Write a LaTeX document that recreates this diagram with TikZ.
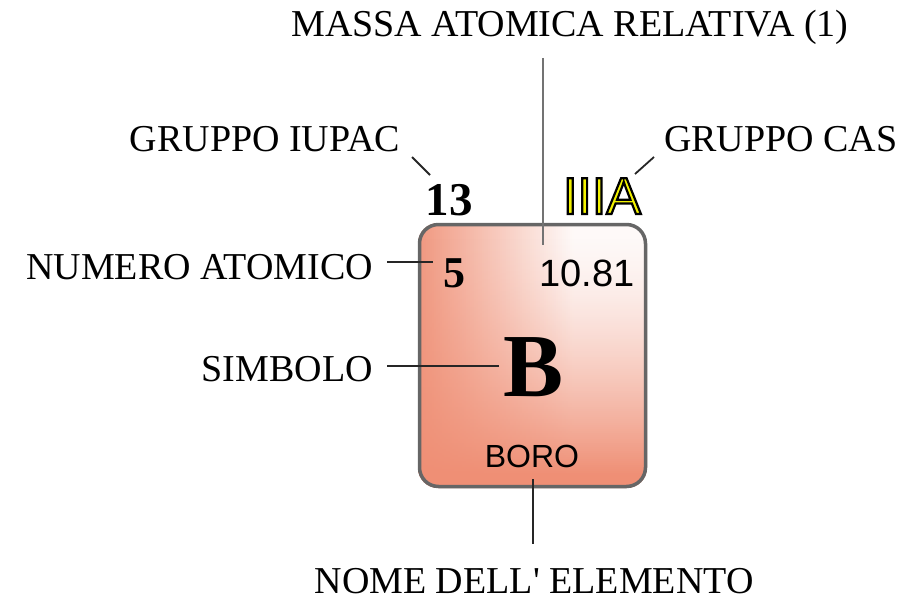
\documentclass[tikz,border=0pt]{standalone}
\usepackage{fontspec}
\setmainfont{Liberation Serif}
\newfontfamily\arialfont{Liberation Sans}
\definecolor{salmon}{HTML}{EF8F75}
\definecolor{boxedge}{HTML}{666666}
\definecolor{casyellow}{HTML}{F2F200}
\newcommand\outlinedtext[1]{\textcolor{casyellow}{\special{pdf:literal direct 2 Tr 2.2 w 0 0 0 RG}#1\special{pdf:literal direct 0 Tr}}}
\tikzset{
  lbl/.style={inner sep=0pt, font=\fontsize{38}{41}\selectfont},
  lead/.style={line width=1.8pt, draw=black!85},
  leadgray/.style={line width=2pt, draw=black!55},
}
\begin{document}
\begin{tikzpicture}[x=1pt,y=-1pt]
\useasboundingbox (0,0) rectangle (913,599);
% element box: horizontal gradient (salmon left -> white right)
% overlaid with a vertical gradient (clear top -> salmon bottom)
\begin{scope}
  \clip[rounded corners=20] (418,223) rectangle (647,488);
  \foreach \x in {418,420,...,646}{
    \pgfmathsetmacro\p{100*max(0.05,0.92*(1-(\x+1-418)/165))}
    \fill[salmon!\p!white] (\x,223) rectangle (\x+2,488);
  }
  \foreach \y in {223,225,...,487}{
    \pgfmathsetmacro\v{min(1,pow(max(0.0001,(\y+1-235)/240),1.5))}
    \fill[salmon, fill opacity=\v] (418,\y) rectangle (648,\y+2);
  }
\end{scope}
\draw[boxedge, line width=3.5pt, rounded corners=19] (419.5,224.5) rectangle (645.5,486.5);

% texts
\node[lbl, anchor=base] (massa) at (570,37) {MASSA ATOMICA RELATIVA (1)};
\node[lbl, anchor=base east] (iupac) at (400,152) {GRUPPO IUPAC};
\node[lbl, anchor=base west] (cas) at (664,152) {GRUPPO CAS};
\node[lbl, anchor=base east] (numero) at (373,279) {NUMERO ATOMICO};
\node[lbl, anchor=base east] (simbolo) at (373,381) {SIMBOLO};
\node[lbl, anchor=base] (nome) at (534,593) {NOME DELL\textquotesingle{} ELEMENTO};

\node[inner sep=0pt, anchor=base, font=\fontsize{47}{50}\selectfont\bfseries] (g13) at (449,215) {13};
\node[inner sep=0pt, anchor=base, font=\fontsize{52}{55}\selectfont\arialfont] (g3a) at (602,214) {\outlinedtext{IIIA}};
\node[inner sep=0pt, anchor=base, font=\fontsize{44}{48}\selectfont\bfseries] (z) at (454,287) {5};
\node[inner sep=0pt, anchor=base, font=\fontsize{38}{41}\selectfont\arialfont] (mass) at (587,286) {10.81};
\node[inner sep=0pt, anchor=base, font=\fontsize{90}{95}\selectfont\bfseries] (sym) at (534,396) {B};
\node[inner sep=0pt, anchor=base, font=\fontsize{32}{35}\selectfont\arialfont] (name) at (532,467) {BORO};

% connector end points
\coordinate (m1) at (543,58);
\coordinate (m2) at (543,245);
\coordinate (i1) at (412,157);
\coordinate (i2) at (430,175);
\coordinate (c1) at (654,157);
\coordinate (c2) at (635,174);
\coordinate (n1) at (387,262);
\coordinate (n2) at (433,262);
\coordinate (s1) at (387,366);
\coordinate (s2) at (499,366);
\coordinate (b1) at (533,479);
\coordinate (b2) at (533,544);

\draw[leadgray] (m1) -- (m2);
\draw[lead] (i1) -- (i2);
\draw[lead] (c1) -- (c2);
\draw[lead] (n1) -- (n2);
\draw[lead] (s1) -- (s2);
\draw[lead] (b1) -- (b2);
\end{tikzpicture}
\end{document}
